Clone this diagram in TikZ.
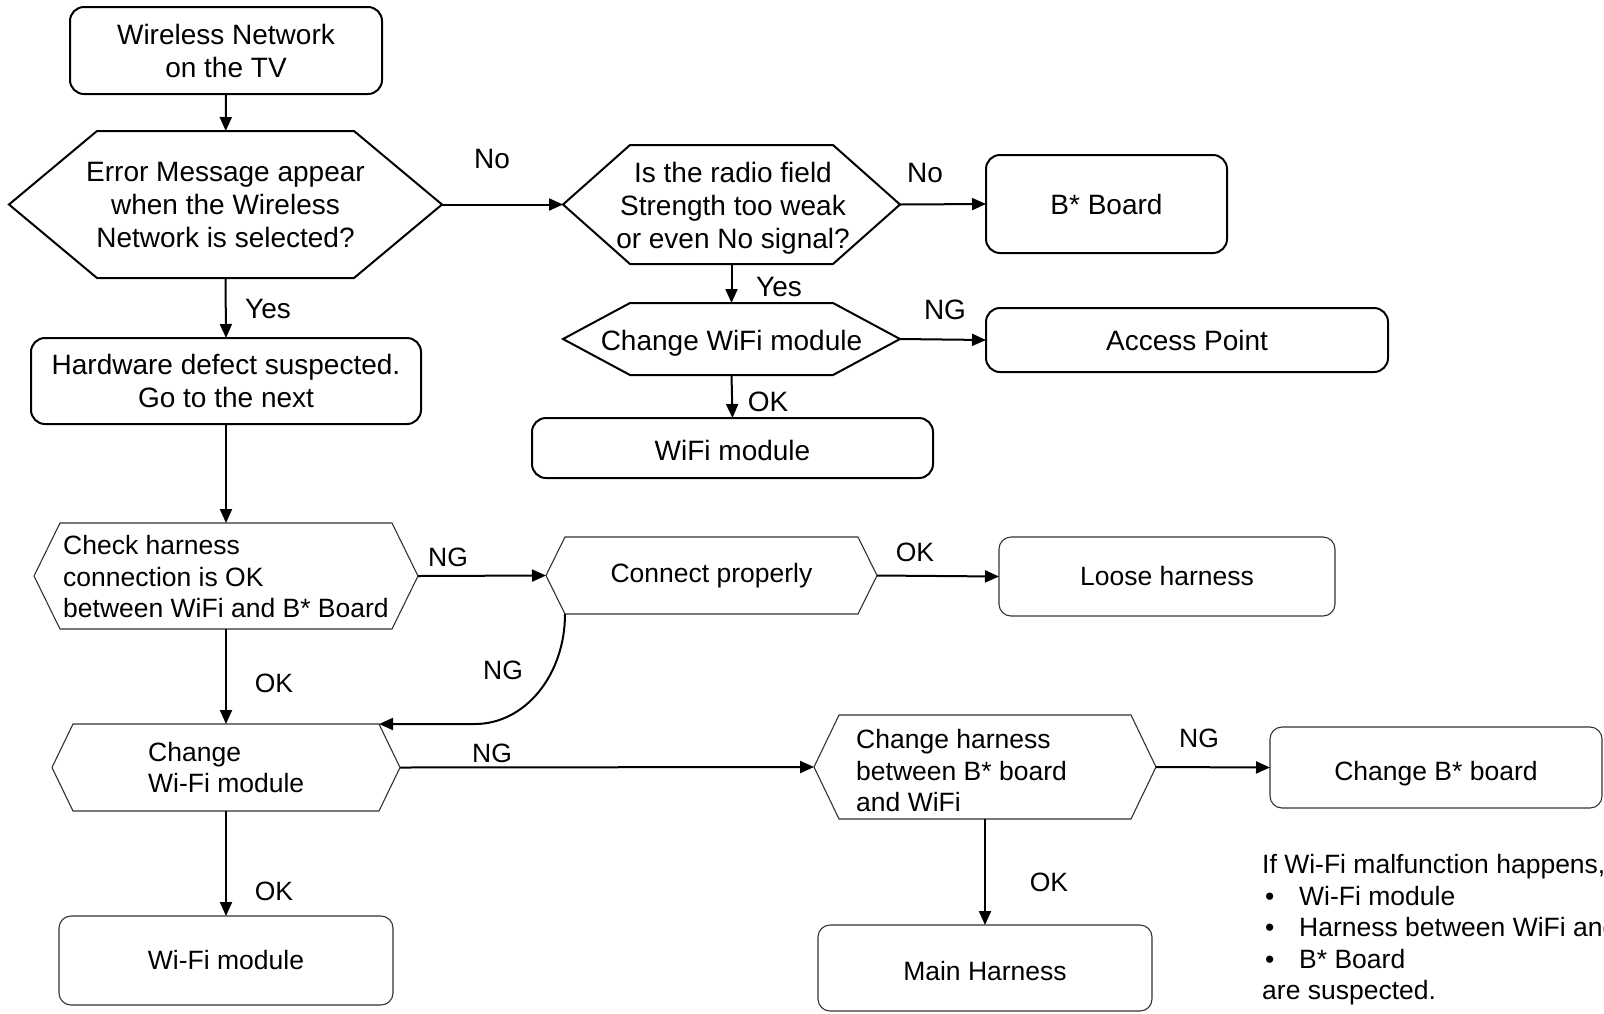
\documentclass[tikz,border=0pt]{standalone}
\usepackage{fontspec}
\setmainfont{Liberation Sans}
\usetikzlibrary{arrows.meta,calc}
\tikzset{
  ftU/.style={font=\fontsize{28}{33}\selectfont},
  ftL/.style={font=\fontsize{26.5}{31.5}\selectfont},
  shp/.style={inner sep=0pt, outer sep=0pt, align=center},
  boxU/.style={shp, ftU, draw=black, line width=2pt, rounded corners=14pt},
  boxL/.style={shp, ftL, draw=black!80, line width=1.1pt, rounded corners=12pt},
  hexU/.style={draw=black, line width=2pt},
  hexL/.style={draw=black!80, line width=1.1pt},
  arr/.style={draw=black, line width=2pt, -{Triangle[length=14pt,width=12pt]}},
  lblU/.style={ftU, inner sep=0pt},
  lblL/.style={ftL, inner sep=0pt},
  lowtext/.style={text height=#1, text depth=0pt},
}
\newcommand\hexdraw[3]{\draw[#3] (#1.west) -- ([xshift=#2pt]#1.north west) -- ([xshift=-#2pt]#1.north east) -- (#1.east) -- ([xshift=-#2pt]#1.south east) -- ([xshift=#2pt]#1.south west) -- cycle;}
\begin{document}
\begin{tikzpicture}[x=1pt,y=-1pt]
\useasboundingbox (0,0) rectangle (1604,1013);
\fill[white] (0,0) rectangle (1604,1013);

% upper part
\node[boxU, minimum width=312pt, minimum height=87pt] (top) at (226,50.5) {Wireless Network\\on the TV};
\node[shp, ftU, minimum width=433pt, minimum height=147pt] (h1) at (225.5,204.5) {Error Message appear\\when the Wireless\\Network is selected?};
\hexdraw{h1}{88}{hexU}
\node[shp, minimum width=337pt, minimum height=119pt] (h2) at (731.5,204.5) {};
\hexdraw{h2}{67}{hexU}
\node[shp, ftU] (t2) at (733,208) {Is the radio field\\Strength too weak\\or even No signal?};
\node[shp, ftU, lowtext=22pt, minimum width=337pt, minimum height=72pt] (h3) at (731.5,339) {Change WiFi module};
\hexdraw{h3}{67}{hexU}
\node[boxU, lowtext=21pt, minimum width=241pt, minimum height=98pt] (bb) at (1106.5,204) {B* Board};
\node[boxU, minimum width=402pt, minimum height=64pt] (ap) at (1187,340) {Access Point};
\node[boxU, lowtext=24pt, minimum width=401pt, minimum height=60pt] (wm1) at (732.5,448) {WiFi module};
\node[boxU, minimum width=390pt, minimum height=86pt] (hw) at (226,381) {Hardware defect suspected.\\Go to the next};

% lower part
\node[shp, minimum width=384pt, minimum height=106pt] (h4) at (226,576) {};
\hexdraw{h4}{26}{hexL}
\node[ftL, align=left, inner sep=0pt, anchor=west] (t4) at (63,576.7) {Check harness\\connection is OK\\between WiFi and B* Board};
\node[shp, ftL, minimum width=331pt, minimum height=77pt] (h5) at (711.5,575.5) {Connect properly};
\hexdraw{h5}{19}{hexL}
\node[boxL, minimum width=336pt, minimum height=79pt] (lh) at (1167,576.5) {Loose harness};
\node[shp, minimum width=348pt, minimum height=87pt] (h6) at (226,767.5) {};
\hexdraw{h6}{21}{hexL}
\node[ftL, align=left, inner sep=0pt, anchor=west] (t6) at (148,767.5) {Change\\Wi-Fi module};
\node[shp, minimum width=342pt, minimum height=104pt] (h7) at (985,767) {};
\hexdraw{h7}{25}{hexL}
\node[ftL, align=left, inner sep=0pt, anchor=west] (t7) at (856,771) {Change harness\\between B* board\\and WiFi};
\node[boxL, lowtext=25pt, minimum width=332pt, minimum height=81pt] (cb) at (1436,767.5) {Change B* board};
\node[boxL, lowtext=25pt, minimum width=334pt, minimum height=86pt] (mh) at (985,968) {Main Harness};
\node[boxL, minimum width=334pt, minimum height=89pt] (wm2) at (226,960.5) {Wi-Fi module};

\node[ftL, align=left, inner sep=0pt, anchor=west] (note) at (1262,930) {If Wi-Fi malfunction happens,\\
\makebox[37pt][l]{\hspace{3pt}•}Wi-Fi module\\
\makebox[37pt][l]{\hspace{3pt}•}Harness between WiFi and\\
\makebox[37pt][l]{\hspace{3pt}•}B* Board\\
are suspected.};

% connectors
\draw[arr] (top) -- (h1);
\draw[arr] (h1.east) -- (h2.west);
\draw[arr] (h2.east) -- (bb.west);
\draw[arr] (h2.south) -- (h3.north);
\draw[arr] (h3.east) -- (ap.west);
\draw[arr] (h3.south) -- (wm1.north);
\draw[arr] (h1.south) -- (hw.north);
\draw[arr] (hw.south) -- (h4.north);
\draw[arr] (h4.east) -- (h5.west);
\draw[arr] (h5.east) -- (lh.west);
\coordinate (bend) at (475,724);
\draw[arr] ([xshift=19pt]h5.south west) .. controls +(0,61) and +(50,0) .. (bend) -- ([xshift=-21pt]h6.north east);
\draw[arr] (h4.south) -- (h6.north);
\draw[arr] (h6.east) -- (h7.west);
\draw[arr] (h7.east) -- (cb.west);
\draw[arr] (h7.south) -- (mh.north);
\draw[arr] (h6.south) -- (wm2.north);

% labels
\node[lblU] (l1) at (492,159) {No};
\node[lblU] (l2) at (925,173) {No};
\node[lblU] (l3) at (779,287) {Yes};
\node[lblU] (l4) at (945,310) {NG};
\node[lblU] (l5) at (768,402) {OK};
\node[lblU] (l6) at (268,309) {Yes};
\node[lblL] (l7) at (448,557) {NG};
\node[lblL] (l8) at (915,552) {OK};
\node[lblL] (l9) at (503,670) {NG};
\node[lblL] (l10) at (274,683) {OK};
\node[lblL] (l11) at (492,753) {NG};
\node[lblL] (l12) at (1199,738) {NG};
\node[lblL] (l13) at (1049,882) {OK};
\node[lblL] (l14) at (274,891) {OK};
\end{tikzpicture}
\end{document}
